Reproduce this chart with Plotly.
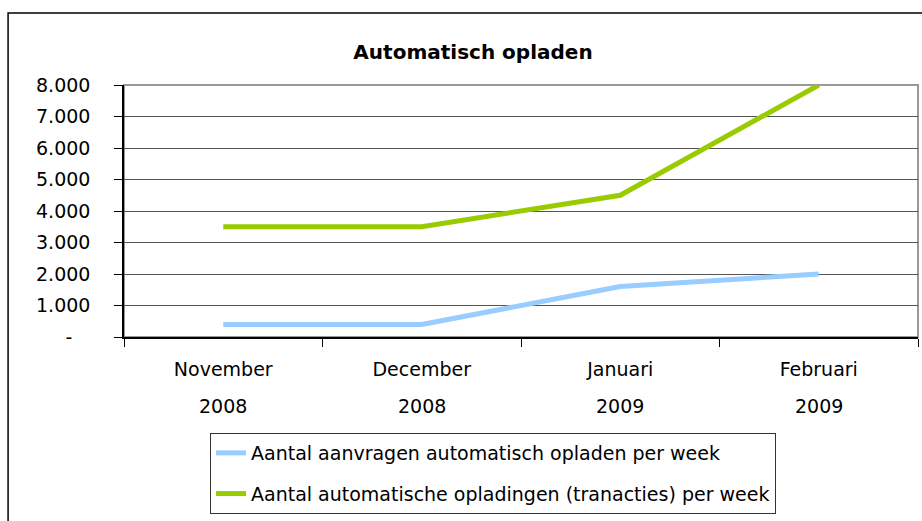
import plotly.graph_objects as go

categories = ["November", "December", "Januari", "Februari"]
years = ["2008", "2008", "2009", "2009"]
aanvragen = [400, 400, 1600, 2000]
opladingen = [3500, 3500, 4500, 8000]
series_names = [
    "Aantal aanvragen automatisch opladen per week",
    "Aantal automatische opladingen (tranacties) per week",
]
y_tickvals = [0, 1000, 2000, 3000, 4000, 5000, 6000, 7000, 8000]
y_ticktext = ["-\u00a0\u00a0\u00a0", "1.000", "2.000", "3.000", "4.000",
              "5.000", "6.000", "7.000", "8.000"]

FONT = "DejaVu Sans"
FS = 19

fig = go.Figure()
fig.add_trace(go.Scatter(x=categories, y=aanvragen, mode="lines", name=series_names[0],
                         line=dict(color="#99CCFF", width=5), legendgroup="a"))
fig.add_trace(go.Scatter(x=categories, y=opladingen, mode="lines", name=series_names[1],
                         line=dict(color="#99CC00", width=5), legendgroup="b"))

for c, yr in zip(categories, years):
    fig.add_annotation(x=c, xref="x", y=(337 - 406) / 252, yref="paper", text=yr,
                       showarrow=False, yanchor="middle",
                       font=dict(family=FONT, size=FS, color="#000"))

# outer chart frame
fig.add_shape(type="rect", xref="paper", yref="paper", x0=-0.146, x1=1.02, y0=-0.8, y1=1.286,
              line=dict(color="#000", width=1.5), layer="below")
# plot area frame
fig.add_shape(type="rect", xref="paper", yref="paper", x0=0, x1=1, y0=0, y1=1,
              line=dict(color="#999", width=2), layer="below")

fig.update_layout(
    width=922, height=521, autosize=False,
    margin=dict(l=124, r=4, t=85, b=184, autoexpand=False),
    paper_bgcolor="white", plot_bgcolor="white",
    font=dict(family=FONT, size=FS, color="#000"),
    title=dict(text="<b>Automatisch opladen</b>", x=473 / 922, xanchor="center",
               y=1 - 52 / 521, yanchor="middle", yref="container",
               font=dict(family=FONT, size=20, color="#000")),
    showlegend=True,
    legend=dict(x=(210 - 124) / 794, y=(337 - 433) / 252, xanchor="left", yanchor="top",
                bgcolor="white", bordercolor="#333", borderwidth=1, tracegroupgap=13,
                font=dict(family=FONT, size=FS, color="#000")),
)
fig.update_xaxes(type="category", range=[-0.5, 3.5], tickson="boundaries", showgrid=False,
                 showline=True, linecolor="#000", linewidth=1.5, ticks="outside", ticklen=8,
                 tickcolor="#000", ticklabelstandoff=14, tickfont=dict(size=FS),
                 zeroline=False)
fig.update_yaxes(range=[0, 8000], tickvals=y_tickvals, ticktext=y_ticktext, showgrid=True,
                 gridcolor="#555", gridwidth=1, showline=True, linecolor="#000", linewidth=1.5,
                 ticks="outside", ticklen=8, tickcolor="#000", ticklabelstandoff=20,
                 zeroline=False, tickfont=dict(size=FS))

fig.write_html(
    "out.html",
    config={"responsive": False, "displayModeBar": False},
    post_script="document.body.style.margin='0';document.body.style.overflow='hidden';",
)
